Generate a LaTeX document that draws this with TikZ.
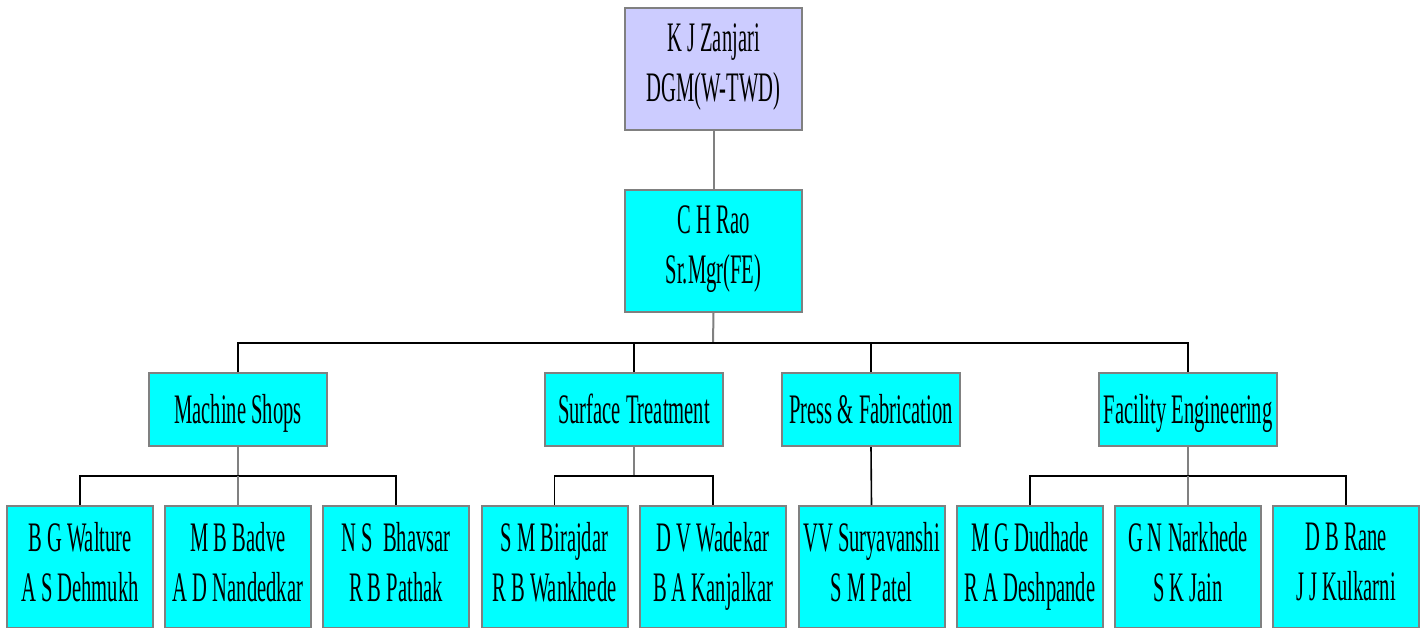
\documentclass[tikz,border=0pt]{standalone}
\usepackage{fontspec}
\setmainfont[FakeStretch=0.49]{Liberation Serif}
\usepackage{tikz}
\newcommand{\orgstrut}{\rule[-11pt]{0pt}{50pt}}
\newcommand{\firststrut}{\rule[-11pt]{0pt}{56pt}}

\begin{document}
\begin{tikzpicture}[x=1pt,y=-1pt,
  unit/.style={draw=edgecolor,line width=2pt,fill=unitcolor,inner sep=0pt,
    align=center,font=\fontsize{42}{50}\selectfont,
    execute at begin node=\orgstrut,execute at end node=\orgstrut},
  twoline/.style={unit,execute at begin node=\firststrut},
  headbox/.style={twoline,fill=headcolor,minimum width=177,minimum height=122},
  deptbox/.style={unit,minimum width=178,minimum height=73},
  staffbox/.style={twoline,minimum width=146,minimum height=122},
  stem/.style={draw=edgecolor,line width=2pt},
  bus/.style={draw=black,line width=1.6pt}]
\definecolor{headcolor}{RGB}{204,204,255}
\definecolor{unitcolor}{RGB}{0,255,255}
\definecolor{edgecolor}{RGB}{128,128,128}
\useasboundingbox (0,0) rectangle (1426,627);
\clip (0,0) rectangle (1426,627);
% head and manager
\node [headbox] (top) at (713.5,68.5) {K J Zanjari\\DGM(W-TWD)};
\node [headbox,fill=unitcolor] (rao) at (713.5,250.5) {C H Rao\\Sr.Mgr(FE)};
% sections
\node [deptbox] (ms) at (238,409.5) {Machine Shops};
\node [deptbox] (st) at (634,409.5) {Surface Treatment};
\node [deptbox] (pf) at (871,409.5) {Press \& Fabrication};
\node [deptbox] (fe) at (1188,409.5) {Facility Engineering};
% staff
\node [staffbox] (ms1) at (80,567) {B G Walture\\A S Dehmukh};
\node [staffbox] (ms2) at (238,567) {M B Badve\\A D Nandedkar};
\node [staffbox] (ms3) at (396,567) {N S~~Bhavsar\\R B Pathak};
\node [staffbox] (st1) at (554.5,567) {S M Birajdar\\R B Wankhede};
\node [staffbox] (st2) at (713,567) {D V Wadekar\\B A Kanjalkar};
\node [staffbox] (pf1) at (871.5,567) {VV Suryavanshi\\S M Patel};
\node [staffbox] (fe1) at (1030,567) {M G Dudhade\\R A Deshpande};
\node [staffbox] (fe2) at (1188,567) {G N Narkhede\\S K Jain};
\node [staffbox] (fe3) at (1346,567) {D B Rane\\J J Kulkarni};
% buses
\coordinate (bus0) at (713,343);
\coordinate (bus1) at (238,476);
\coordinate (bus2) at (634,476);
\coordinate (bus3) at (1188,476);
% connectors
\draw [stem] (top.south) -- (rao.north);
\draw [stem] (rao.south) -- (bus0);
\draw [bus] (ms.north) |- (bus0) -| (fe.north);
\draw [bus] (st.north) -- (st.north |- bus0);
\draw [bus] (pf.north) -- (pf.north |- bus0);
\draw [stem] (ms.south) -- (bus1);
\draw [bus] (ms1.north) |- (bus1) -| (ms3.north);
\draw [stem] (bus1) -- (ms2.north);
\draw [stem] (st.south) -- (bus2);
\draw [bus] (st1.north) |- (bus2) -| (st2.north);
\draw [bus] (pf.south) -- (pf1.north);
\draw [stem] (fe.south) -- (bus3);
\draw [bus] (fe1.north) |- (bus3) -| (fe3.north);
\draw [stem] (bus3) -- (fe2.north);
\end{tikzpicture}
\end{document}
